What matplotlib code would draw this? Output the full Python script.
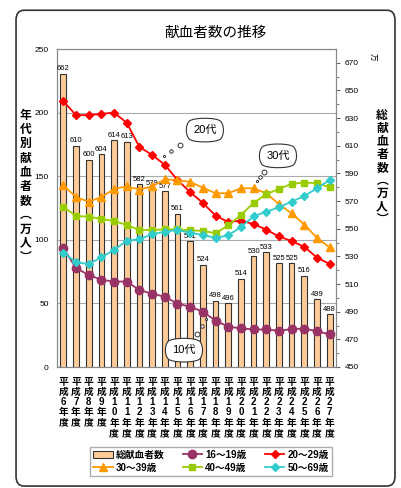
import numpy as np
import matplotlib
matplotlib.use('Agg')
import matplotlib.pyplot as plt
from matplotlib.patches import FancyBboxPatch, Patch

plt.rcParams['font.family'] = ['Liberation Sans', 'Noto Sans CJK JP', 'DejaVu Sans']

# Data
years = [6, 7, 8, 9, 10, 11, 12, 13, 14, 15, 16, 17, 18, 19, 20, 21, 22, 23, 24, 25, 26, 27]
total = [662, 610, 600, 604, 614, 613, 582, 579, 577, 561, 541, 524, 498, 496,
         514, 530, 533, 525, 525, 516, 499, 488]
age_16_19 = [93.5, 77.7, 72.4, 68.5, 67.2, 67.2, 60.5, 57.6, 55.3, 49.8, 47.4,
             43.5, 36.5, 31.7, 30.4, 29.5, 29.5, 28.5, 29.8, 30.2, 28.0, 25.8]
age_20_29 = [209, 198, 198, 199, 200, 192, 173, 166.7, 159, 147, 137.5,
             129, 119, 114, 115, 112.4, 108, 102.6, 99, 94.5, 86, 81]
age_30_39 = [143, 133.5, 130, 133.5, 140, 142, 139.5, 142, 147.5, 147, 145.5,
             141, 136.6, 136.6, 140.5, 140.5, 136.6, 128, 120.8, 112, 101.5, 94]
age_40_49 = [126, 118.7, 118.2, 116.4, 114.8, 111.6, 107.7, 107.7, 108.2, 108.2, 107.5,
             107, 105.2, 111.3, 119.5, 129, 135.8, 140, 144, 145, 144.5, 141.3]
age_50_69 = [90, 82.3, 81, 86.2, 92, 99.3, 100.6, 104.3, 106.4, 107.7, 105.5,
             103.8, 101.5, 103.5, 110, 118.5, 122, 125.6, 130, 134.4, 140.5, 147]

x_labels = ['平\n成\n' + '\n'.join(str(y)) + '\n年\n度' for y in years]
x = np.arange(len(years))

fig = plt.figure(figsize=(4.01, 4.88), dpi=100)

# outer rounded frame
frame = FancyBboxPatch((0.04, 0.004), 0.945, 0.975, boxstyle='round,pad=0,rounding_size=0.02',
                       transform=fig.transFigure, fill=False, ec='#333333', lw=1.2)
fig.patches.append(frame)

rect = [57 / 401, 1 - 367 / 488, 279 / 401, 318 / 488]
# base axes: left scale + grid
ax = fig.add_axes(rect)
ax.set_xlim(-0.5, len(years) - 0.5)
ax.set_ylim(0, 250)
ax.set_yticks([0, 50, 100, 150, 200, 250])
ax.grid(axis='y', color='#aaaaaa', lw=0.8)
ax.tick_params(axis='y', length=0, pad=6, labelsize=6)
ax.set_xticks(x)
ax.set_xticklabels(x_labels, fontsize=7, linespacing=1.03, fontweight='bold')
ax.tick_params(axis='x', length=0, pad=7)
for s in ax.spines.values():
    s.set_color('#888888')

# bars on right scale
axb = ax.twinx()
axb.patch.set_visible(False)
bars = axb.bar(x, total, width=0.45, bottom=0, color='#FFCC99', edgecolor='#333333', lw=0.8)
axb.set_ylim(450, 680)
axb.bar_label(bars, labels=[str(v) for v in total], padding=1, fontsize=5.5)
axb.set_yticks(np.arange(450, 671, 20))
axb.set_yticks(np.arange(460, 680, 20), minor=True)
axb.tick_params(axis='y', which='major', length=3, pad=3, labelsize=6, color='#666666')
axb.tick_params(axis='y', which='minor', length=2, color='#666666')
for s in axb.spines.values():
    s.set_color('#888888')

# lines on left scale
axl = ax.twinx()
axl.set_ylim(0, 250)
axl.patch.set_visible(False)
axl.set_yticks([])
for s in axl.spines.values():
    s.set_visible(False)

l16, = axl.plot(x, age_16_19, color='#993366', marker='o', ms=6, lw=1.3)
l20, = axl.plot(x, age_20_29, color='#FF0000', marker='D', ms=4.5, lw=1.3)
l30, = axl.plot(x, age_30_39, color='#FF9900', marker='^', ms=6, lw=1.3)
l40, = axl.plot(x, age_40_49, color='#99CC00', marker='s', ms=5, lw=1.3)
l50, = axl.plot(x, age_50_69, color='#33CCCC', marker='D', ms=4.5, lw=1.3)

# thought clouds
cloud = dict(boxstyle='round4,pad=0.7', fc='white', ec='#333333', lw=0.8)
for txt, cx, cy, dots in [
    ('20代', 0.530, 0.745, [(0.441, 0.698, 3.5), (0.409, 0.679, 2.5), (0.384, 0.664, 1.5)]),
    ('30代', 0.792, 0.664, [(0.742, 0.613, 3.5), (0.728, 0.597, 2.5), (0.717, 0.585, 1.5)]),
    ('10代', 0.455, 0.053, [(0.502, 0.104, 3.5), (0.520, 0.129, 2.5), (0.534, 0.151, 1.5)]),
]:
    axl.text(cx, cy, txt, transform=axl.transAxes, ha='center', va='center',
             fontsize=8, bbox=cloud, zorder=5)
    for dx, dy, s in dots:
        axl.plot(dx, dy, 'o', transform=axl.transAxes, ms=s, mfc='white', mec='#333333',
                 mew=0.7, zorder=5, clip_on=False)

fig.text(0.536, 0.932, '献血者数の推移', fontsize=10.5, ha='center', va='center')
fig.text(0.064, 0.618, '\n'.join('年代別献血者数︵万人︶'), fontsize=8.5, fontweight='bold',
         ha='center', va='center', linespacing=1.12, family=['Noto Sans CJK JP'])
fig.text(0.953, 0.657, '\n'.join('総献血者数︵万人︶'), fontsize=8.5, fontweight='bold',
         ha='center', va='center', linespacing=1.0, family=['Noto Sans CJK JP'])
fig.text(0.925, 0.883, '万', fontsize=5.5, rotation=-90, ha='center', va='center')

handles = [Patch(fc='#FFCC99', ec='#333333', lw=0.8), l30, l16, l40, l20, l50]
labels = ['総献血者数', '30～39歳', '16～19歳', '40～49歳', '20～29歳', '50～69歳']
fig.legend(handles, labels, ncol=3, loc='center', bbox_to_anchor=(0.526, 0.055),
           fancybox=False, edgecolor='#999999', handlelength=2,
           columnspacing=1.9, borderpad=0.3, labelspacing=0.3, handletextpad=0.3,
           prop={'weight': 'bold', 'size': 7})

fig.savefig('out.png', dpi=100)
